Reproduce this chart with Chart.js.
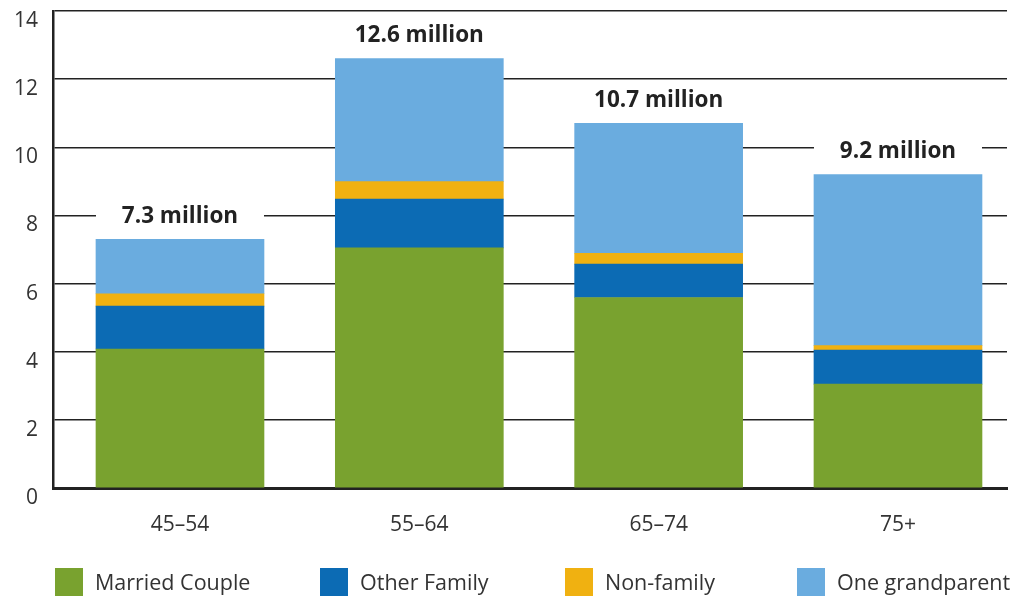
<!DOCTYPE html>
<html>
<head>
<meta charset="utf-8">
<script src="https://cdn.jsdelivr.net/npm/chart.js@4"></script>
<style>
html,body{margin:0;padding:0;background:#fff;}
#wrap{width:1013px;height:597px;position:relative;}
</style>
</head>
<body>
<div id="wrap"><canvas id="c" width="1013" height="597"></canvas></div>
<script>
const categories = ['45–54', '55–64', '65–74', '75+'];
const marriedCouple = [4.08, 7.05, 5.59, 3.05];
const otherFamily = [1.26, 1.43, 0.98, 1.00];
const nonFamily = [0.36, 0.51, 0.32, 0.13];
const oneGrandparent = [1.60, 3.61, 3.81, 5.02];
const yTicks = [0, 2, 4, 6, 8, 10, 12, 14];

const seriesNames = ['Married Couple', 'Other Family', 'Non-family', 'One grandparent'];
const seriesColors = ['#79A22F', '#0C6BB4', '#F0B111', '#6AACDF'];
const seriesValues = [marriedCouple, otherFamily, nonFamily, oneGrandparent];

const FONT = '"Open Sans", "Noto Sans", sans-serif';

const datasets = seriesValues.map((vals, s) => ({
  label: seriesNames[s],
  data: vals.map((v, i) => ({x: i, y: v})),
  backgroundColor: seriesColors[s],
  borderWidth: 0,
  barThickness: 168
}));

const totalsPlugin = {
  id: 'totals',
  afterDatasetsDraw(chart) {
    const ctx = chart.ctx;
    const lastMeta = chart.getDatasetMeta(chart.data.datasets.length - 1);
    ctx.save();
    categories.forEach((c, i) => {
      const total = seriesValues.reduce((a, arr) => a + arr[i], 0);
      const bar = lastMeta.data[i];
      const cy = bar.y - 23;
      const w = bar.width;
      ctx.fillStyle = '#ffffff';
      ctx.fillRect(bar.x - w / 2, cy - 14, w, 28);
      ctx.fillStyle = '#222222';
      ctx.font = 'bold 22.5px ' + FONT;
      ctx.textAlign = 'center';
      ctx.textBaseline = 'middle';
      ctx.fillText(total.toFixed(1) + ' million', bar.x, cy);
    });
    ctx.restore();
  }
};

const legendPlugin = {
  id: 'customLegend',
  afterDraw(chart) {
    const ctx = chart.ctx;
    const boxX = [55, 320, 565, 797];
    const top = 568, size = 28;
    ctx.save();
    chart.data.datasets.forEach((ds, s) => {
      ctx.fillStyle = ds.backgroundColor;
      ctx.fillRect(boxX[s], top, size, size);
      ctx.fillStyle = '#333333';
      ctx.font = '21.5px ' + FONT;
      ctx.textAlign = 'left';
      ctx.textBaseline = 'middle';
      ctx.fillText(ds.label, boxX[s] + size + 12, top + size / 2 + 2);
    });
    ctx.restore();
  }
};

new Chart(document.getElementById('c'), {
  type: 'bar',
  data: { datasets },
  plugins: [totalsPlugin, legendPlugin],
  options: {
    responsive: false,
    animation: false,
    devicePixelRatio: 1,
    layout: { padding: { top: 11, left: 0, right: 6, bottom: 62 } },
    plugins: { legend: { display: false }, tooltip: { enabled: false } },
    scales: {
      x: {
        type: 'linear',
        stacked: true,
        offset: false,
        bounds: 'data',
        min: -0.5306,
        max: 3.4555,
        afterBuildTicks: (scale) => { scale.ticks = categories.map((_, i) => ({ value: i })); },
        afterFit: (scale) => { scale.height = 47; scale.paddingLeft = 0; scale.paddingRight = 0; },
        ticks: {
          callback: (v) => categories[v],
          font: { family: FONT, size: 21 },
          color: '#333333',
          padding: 24,
          maxRotation: 0,
          autoSkip: false
        },
        grid: { display: false, drawTicks: false, offset: false },
        border: { display: true, color: '#222222', width: 3 }
      },
      y: {
        stacked: true,
        min: 0,
        max: 14,
        afterBuildTicks: (scale) => { scale.ticks = yTicks.map(v => ({ value: v })); },
        afterFit: (scale) => { scale.width = 53; scale.paddingTop = 0; scale.paddingBottom = 0; },
        ticks: {
          font: { family: FONT, size: 21 },
          color: '#333333',
          padding: 15,
          labelOffset: 10
        },
        grid: { color: '#222222', lineWidth: 1.5, drawTicks: false },
        border: { display: true, color: '#222222', width: 2.5 }
      }
    }
  }
});
</script>
</body>
</html>
